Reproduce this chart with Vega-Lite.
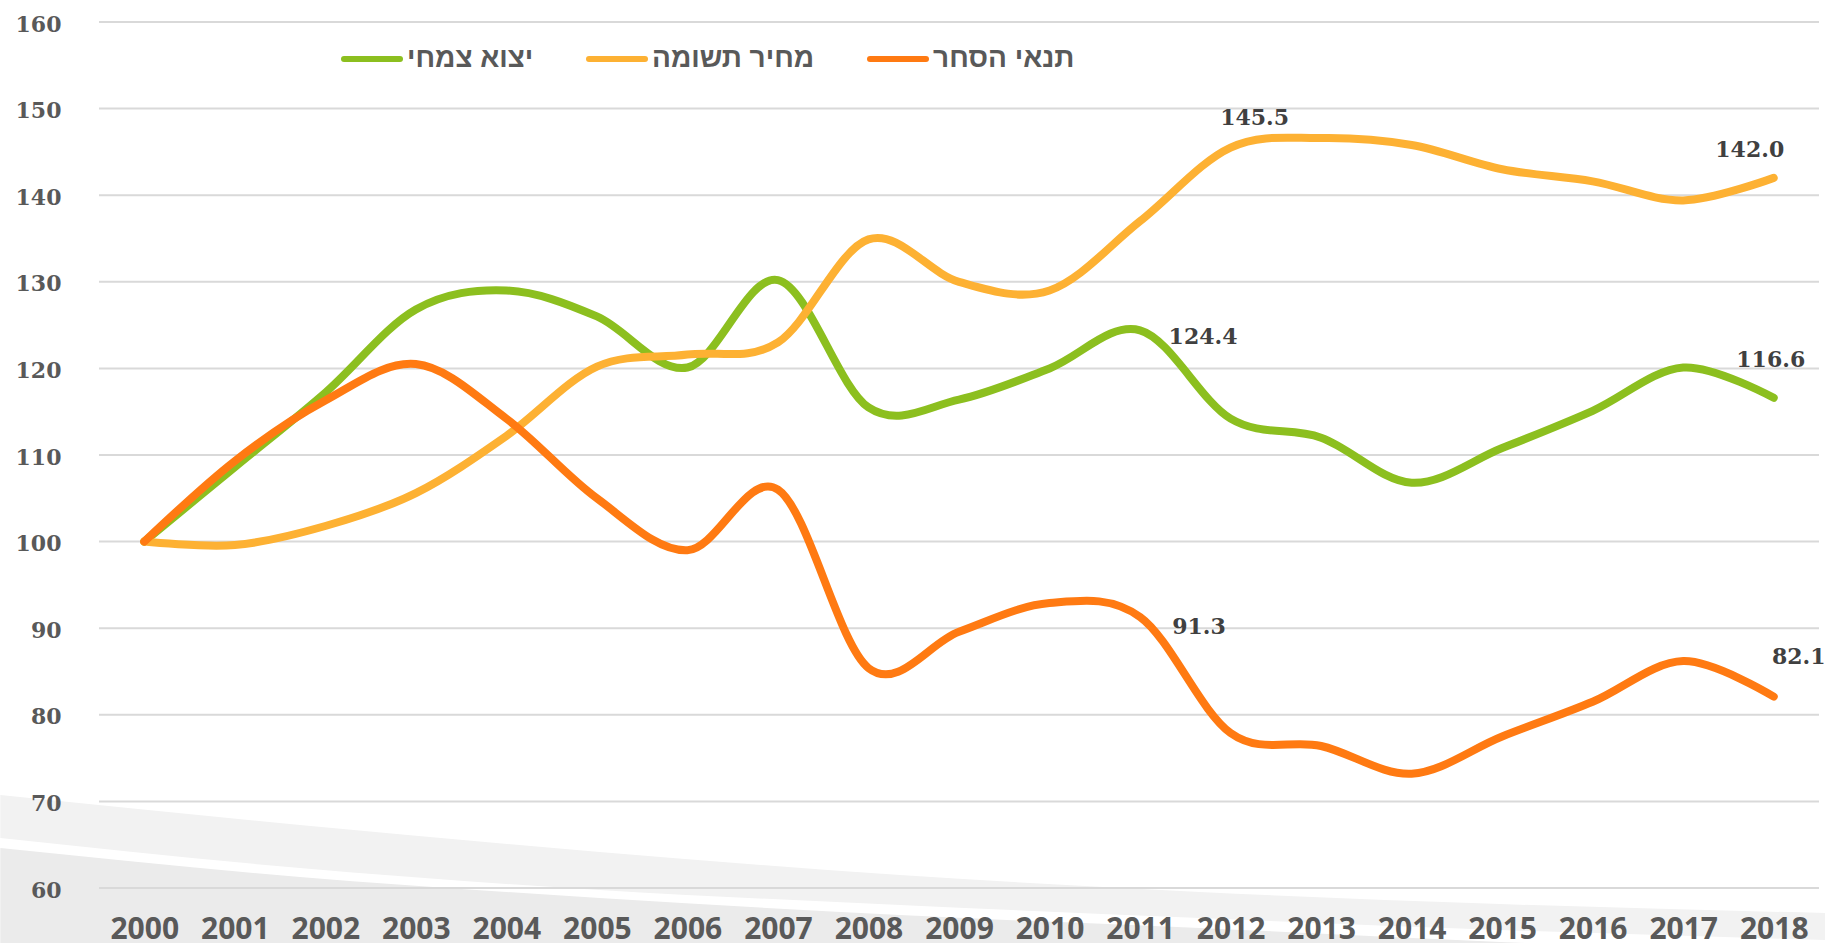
{
  "$schema": "https://vega.github.io/schema/vega-lite/v6.json",
  "width": 1720,
  "height": 866,
  "autosize": "none",
  "padding": {"left": 99, "top": 22, "right": 6, "bottom": 55},
  "background": "white",
  "config": {"view": {"stroke": null}},
  "datasets": {
    "series": [
      {"series": "יצוא צמחי", "year": 2000, "value": 100},
      {"series": "יצוא צמחי", "year": 2001, "value": 108.6},
      {"series": "יצוא צמחי", "year": 2002, "value": 117.2},
      {"series": "יצוא צמחי", "year": 2003, "value": 126.8},
      {"series": "יצוא צמחי", "year": 2004, "value": 129.0},
      {"series": "יצוא צמחי", "year": 2005, "value": 126.0},
      {"series": "יצוא צמחי", "year": 2006, "value": 120.1},
      {"series": "יצוא צמחי", "year": 2007, "value": 130.2},
      {"series": "יצוא צמחי", "year": 2008, "value": 115.5},
      {"series": "יצוא צמחי", "year": 2009, "value": 116.4},
      {"series": "יצוא צמחי", "year": 2010, "value": 120.0},
      {"series": "יצוא צמחי", "year": 2011, "value": 124.4},
      {"series": "יצוא צמחי", "year": 2012, "value": 114.2},
      {"series": "יצוא צמחי", "year": 2013, "value": 112.0},
      {"series": "יצוא צמחי", "year": 2014, "value": 106.8},
      {"series": "יצוא צמחי", "year": 2015, "value": 110.8},
      {"series": "יצוא צמחי", "year": 2016, "value": 115.1},
      {"series": "יצוא צמחי", "year": 2017, "value": 120.1},
      {"series": "יצוא צמחי", "year": 2018, "value": 116.6},
      {"series": "מחיר תשומה", "year": 2000, "value": 100},
      {"series": "מחיר תשומה", "year": 2001, "value": 99.6},
      {"series": "מחיר תשומה", "year": 2002, "value": 101.8},
      {"series": "מחיר תשומה", "year": 2003, "value": 105.6},
      {"series": "מחיר תשומה", "year": 2004, "value": 112.2},
      {"series": "מחיר תשומה", "year": 2005, "value": 120.2},
      {"series": "מחיר תשומה", "year": 2006, "value": 121.6},
      {"series": "מחיר תשומה", "year": 2007, "value": 123.0},
      {"series": "מחיר תשומה", "year": 2008, "value": 134.9},
      {"series": "מחיר תשומה", "year": 2009, "value": 130.0},
      {"series": "מחיר תשומה", "year": 2010, "value": 129.0},
      {"series": "מחיר תשומה", "year": 2011, "value": 137.0},
      {"series": "מחיר תשומה", "year": 2012, "value": 145.5},
      {"series": "מחיר תשומה", "year": 2013, "value": 146.6},
      {"series": "מחיר תשומה", "year": 2014, "value": 145.8},
      {"series": "מחיר תשומה", "year": 2015, "value": 143.0},
      {"series": "מחיר תשומה", "year": 2016, "value": 141.6},
      {"series": "מחיר תשומה", "year": 2017, "value": 139.4},
      {"series": "מחיר תשומה", "year": 2018, "value": 142.0},
      {"series": "תנאי הסחר", "year": 2000, "value": 100},
      {"series": "תנאי הסחר", "year": 2001, "value": 109.3},
      {"series": "תנאי הסחר", "year": 2002, "value": 116.3},
      {"series": "תנאי הסחר", "year": 2003, "value": 120.5},
      {"series": "תנאי הסחר", "year": 2004, "value": 114.2},
      {"series": "תנאי הסחר", "year": 2005, "value": 105.0},
      {"series": "תנאי הסחר", "year": 2006, "value": 99.0},
      {"series": "תנאי הסחר", "year": 2007, "value": 106.0},
      {"series": "תנאי הסחר", "year": 2008, "value": 85.4},
      {"series": "תנאי הסחר", "year": 2009, "value": 89.6},
      {"series": "תנאי הסחר", "year": 2010, "value": 92.9},
      {"series": "תנאי הסחר", "year": 2011, "value": 91.3},
      {"series": "תנאי הסחר", "year": 2012, "value": 77.9},
      {"series": "תנאי הסחר", "year": 2013, "value": 76.4},
      {"series": "תנאי הסחר", "year": 2014, "value": 73.2},
      {"series": "תנאי הסחר", "year": 2015, "value": 77.5},
      {"series": "תנאי הסחר", "year": 2016, "value": 81.5},
      {"series": "תנאי הסחר", "year": 2017, "value": 86.2},
      {"series": "תנאי הסחר", "year": 2018, "value": 82.1}
    ],
    "lightband": [
      {"x": 1998.41, "top": 70.74, "bottom": 65.77},
      {"x": 2001.72, "top": 67.28, "bottom": 62.31},
      {"x": 2005.03, "top": 64.16, "bottom": 59.77},
      {"x": 2008.35, "top": 61.5, "bottom": 58.04},
      {"x": 2011.66, "top": 59.54, "bottom": 56.54},
      {"x": 2014.98, "top": 58.15, "bottom": 55.15},
      {"x": 2018.57, "top": 57.11, "bottom": 54.0}
    ],
    "darkband": [
      {"x": 1998.41, "top": 64.62, "bottom": 50},
      {"x": 2001.72, "top": 61.27, "bottom": 50},
      {"x": 2005.03, "top": 58.85, "bottom": 50},
      {"x": 2008.35, "top": 56.88, "bottom": 50},
      {"x": 2011.66, "top": 55.38, "bottom": 50},
      {"x": 2014.98, "top": 53.77, "bottom": 50},
      {"x": 2018.57, "top": 52.27, "bottom": 50}
    ],
    "grid": [
      {"g": 60}, {"g": 70}, {"g": 80}, {"g": 90}, {"g": 100}, {"g": 110},
      {"g": 120}, {"g": 130}, {"g": 140}, {"g": 150}, {"g": 160}
    ]
  },
  "layer": [
    {
      "data": {"name": "lightband"},
      "mark": {"type": "area", "color": "#F2F2F2", "interpolate": "monotone", "clip": false},
      "encoding": {
        "x": {"field": "x", "type": "quantitative", "scale": {"domain": [1999.5, 2018.5], "nice": false, "zero": false},
          "axis": {"values": [2000,2001,2002,2003,2004,2005,2006,2007,2008,2009,2010,2011,2012,2013,2014,2015,2016,2017,2018],
            "format": "d", "title": null, "grid": false, "domain": false, "ticks": false, "tickSize": 0, "zindex": 2,
            "labelFlush": false, "labelOverlap": false, "labelBaseline": "alphabetic", "labelPadding": 50,
            "labelFont": "Open Sans", "labelFontWeight": "bold", "labelFontSize": 30, "labelColor": "#595959"}},
        "y": {"field": "top", "type": "quantitative", "scale": {"domain": [60, 160], "nice": false, "zero": false},
          "axis": {"values": [60,70,80,90,100,110,120,130,140,150,160], "title": null, "grid": false, "domain": false,
            "ticks": false, "tickSize": 0, "labelPadding": 38, "labelFlush": false, "zindex": 2,
            "labelFont": "DejaVu Serif", "labelFontWeight": "bold", "labelFontSize": 22, "labelColor": "#595959", "labelOffset": 2}},
        "y2": {"field": "bottom"}
      }
    },
    {
      "data": {"name": "darkband"},
      "mark": {"type": "area", "color": "#EBEBEB", "interpolate": "monotone", "clip": false},
      "encoding": {
        "x": {"field": "x", "type": "quantitative"},
        "y": {"field": "top", "type": "quantitative"},
        "y2": {"field": "bottom"}
      }
    },
    {
      "data": {"name": "grid"},
      "mark": {"type": "rule", "color": "#D9D9D9", "strokeWidth": 2},
      "encoding": {"y": {"field": "g", "type": "quantitative"}}
    },
    {
      "data": {"name": "series"},
      "mark": {"type": "line", "interpolate": "cardinal", "strokeWidth": 8, "strokeCap": "round", "strokeJoin": "round"},
      "encoding": {
        "x": {"field": "year", "type": "quantitative"},
        "y": {"field": "value", "type": "quantitative"},
        "color": {"field": "series", "type": "nominal",
          "scale": {"domain": ["יצוא צמחי", "מחיר תשומה", "תנאי הסחר"], "range": ["#8CBF1F", "#FDB133", "#FF7A12"]},
          "legend": {"orient": "none", "legendX": 242, "legendY": 6, "direction": "horizontal", "title": null,
            "symbolType": "stroke", "symbolSize": 3136, "symbolStrokeWidth": 6, "labelOffset": 4, "columnPadding": 43,
            "labelFont": "Liberation Sans", "labelFontWeight": "bold", "labelFontSize": 28, "labelColor": "#595959", "labelLimit": 400,
            "encode": {"symbols": {"update": {"strokeCap": {"value": "round"}}}}}}
      }
    },
    {
      "data": {"name": "series"},
      "transform": [{"filter": {"and": [{"field": "series", "equal": "יצוא צמחי"}, {"field": "year", "equal": 2011}]}}],
      "mark": {"type": "text", "font": "DejaVu Serif", "fontWeight": "bold", "fontSize": 22, "color": "#404040", "dx": 63, "dy": 7},
      "encoding": {"x": {"field": "year", "type": "quantitative"}, "y": {"field": "value", "type": "quantitative"}, "text": {"field": "value", "type": "quantitative", "format": ".1f"}}
    },
    {
      "data": {"name": "series"},
      "transform": [{"filter": {"and": [{"field": "series", "equal": "תנאי הסחר"}, {"field": "year", "equal": 2011}]}}],
      "mark": {"type": "text", "font": "DejaVu Serif", "fontWeight": "bold", "fontSize": 22, "color": "#404040", "dx": 59, "dy": 10},
      "encoding": {"x": {"field": "year", "type": "quantitative"}, "y": {"field": "value", "type": "quantitative"}, "text": {"field": "value", "type": "quantitative", "format": ".1f"}}
    },
    {
      "data": {"name": "series"},
      "transform": [{"filter": {"and": [{"field": "series", "equal": "מחיר תשומה"}, {"field": "year", "equal": 2012}]}}],
      "mark": {"type": "text", "font": "DejaVu Serif", "fontWeight": "bold", "fontSize": 22, "color": "#404040", "dx": 24, "dy": -30},
      "encoding": {"x": {"field": "year", "type": "quantitative"}, "y": {"field": "value", "type": "quantitative"}, "text": {"field": "value", "type": "quantitative", "format": ".1f"}}
    },
    {
      "data": {"name": "series"},
      "transform": [{"filter": {"and": [{"field": "series", "equal": "מחיר תשומה"}, {"field": "year", "equal": 2018}]}}],
      "mark": {"type": "text", "font": "DejaVu Serif", "fontWeight": "bold", "fontSize": 22, "color": "#404040", "dx": -24, "dy": -28},
      "encoding": {"x": {"field": "year", "type": "quantitative"}, "y": {"field": "value", "type": "quantitative"}, "text": {"field": "value", "type": "quantitative", "format": ".1f"}}
    },
    {
      "data": {"name": "series"},
      "transform": [{"filter": {"and": [{"field": "series", "equal": "יצוא צמחי"}, {"field": "year", "equal": 2018}]}}],
      "mark": {"type": "text", "font": "DejaVu Serif", "fontWeight": "bold", "fontSize": 22, "color": "#404040", "dx": -3, "dy": -38},
      "encoding": {"x": {"field": "year", "type": "quantitative"}, "y": {"field": "value", "type": "quantitative"}, "text": {"field": "value", "type": "quantitative", "format": ".1f"}}
    },
    {
      "data": {"name": "series"},
      "transform": [{"filter": {"and": [{"field": "series", "equal": "תנאי הסחר"}, {"field": "year", "equal": 2018}]}}],
      "mark": {"type": "text", "font": "DejaVu Serif", "fontWeight": "bold", "fontSize": 22, "color": "#404040", "dx": 25, "dy": -40},
      "encoding": {"x": {"field": "year", "type": "quantitative"}, "y": {"field": "value", "type": "quantitative"}, "text": {"field": "value", "type": "quantitative", "format": ".1f"}}
    }
  ]
}
